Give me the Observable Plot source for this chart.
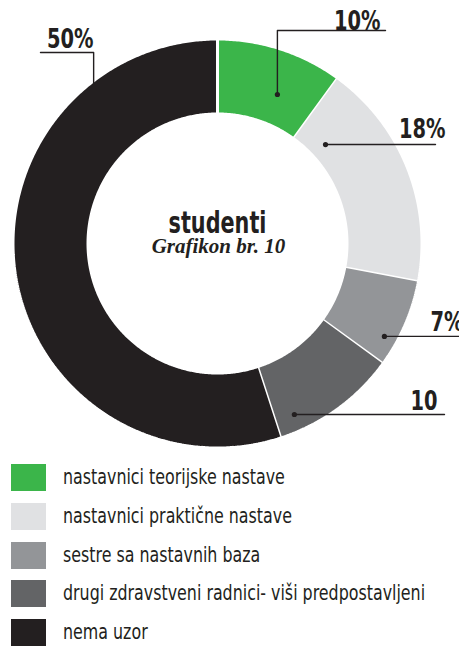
<!DOCTYPE html>
<html><head><meta charset="utf-8">
<script src="https://cdn.jsdelivr.net/npm/d3@7"></script>
<script src="https://cdn.jsdelivr.net/npm/@observablehq/plot@0.6"></script>
<style>
html,body{margin:0;padding:0;background:#fff}
body{width:459px;height:648px;overflow:hidden;position:relative;font-family:"Liberation Sans Narrow","DejaVu Sans Condensed",sans-serif;color:#231f20}
#chart{position:absolute;left:0;top:0}
#legend{position:absolute;left:11px;top:464px}
.row{display:flex;height:38.75px}
.sw{width:35px;height:27px;margin-right:17px;flex:none}
.lb{font-size:21px;line-height:27px;white-space:nowrap;transform:scaleX(0.84);transform-origin:0 50%}
</style>
</head><body>
<div id="chart"></div>
<div id="legend"></div>
<script>
// ---- data ----
const categories = ["nastavnici teorijske nastave","nastavnici praktične nastave","sestre sa nastavnih baza","drugi zdravstveni radnici- viši predpostavljeni","nema uzor"];
const values = [10, 18, 7, 10, 55];
const valueLabels = ["10%", "18%", "7%", "10", "50%"];
const colors = ["#3bb54a", "#e0e1e3", "#939598", "#636466", "#231f20"];
const centerTitle = "studenti";
const centerSubtitle = "Grafikon br. 10";

// ---- layout (not data) ----
const R_OUT = 204.5, R_IN = 129.5;
const callouts = [
  {angle: 21.9, r: 160.6, elbowY: -213, endX: 168, textX: 163, textY: -214},
  {angle: 47.5, r: 146.5, endX: 218, textX: 228, textY: -106},
  {angle: 119.1, r: 191, endX: 245, textX: 246, textY: 87},
  {angle: 155.8, r: 187.5, endX: 227, textX: 220, textY: 166},
  {angle: 322.4, r: 203, elbowY: -191, endX: -177, textX: -124, textY: -196, noDot: true}
];

const total = d3.sum(values);
const rad = a => a * Math.PI / 180;
const polar = (a, r) => ({x: r * Math.sin(rad(a)), y: -r * Math.cos(rad(a))});

let cum = 0;
const slices = values.map((v, i) => {
  const a0 = cum / total * 360; cum += v; const a1 = cum / total * 360;
  const n = Math.max(2, Math.ceil((a1 - a0) / 0.5));
  const pts = [];
  for (let k = 0; k <= n; k++) pts.push(polar(a0 + (a1 - a0) * k / n, R_OUT));
  for (let k = n; k >= 0; k--) pts.push(polar(a0 + (a1 - a0) * k / n, R_IN));
  return {cat: categories[i], color: colors[i], pts};
});

const leaderPts = [], dots = [], labels = [];
callouts.forEach((c, i) => {
  const p = polar(c.angle, c.r);
  const path = [p];
  if (c.elbowY !== undefined) path.push({x: p.x, y: c.elbowY});
  const ly = c.elbowY !== undefined ? c.elbowY : p.y;
  path.push({x: c.endX, y: ly});
  path.forEach(q => leaderPts.push({...q, id: i}));
  if (!c.noDot) dots.push(p);
  labels.push({x: c.textX, y: c.textY, text: valueLabels[i]});
});

const SANS = "Liberation Sans Narrow, DejaVu Sans Condensed, sans-serif";
const plot = Plot.plot({
  width: 459, height: 455, margin: 0,
  x: {domain: [-217, 242], range: [0, 459], axis: null},
  y: {domain: [-243, 212], range: [0, 455], axis: null},
  style: {background: "transparent", overflow: "visible"},
  marks: [
    ...slices.map(s => Plot.line(s.pts, {x: "x", y: "y", fill: s.color, stroke: "white", strokeWidth: 3, strokeLinejoin: "miter"})),
    Plot.line(leaderPts, {x: "x", y: "y", z: "id", stroke: "#231f20", strokeWidth: 1.4}),
    Plot.dot(dots, {x: "x", y: "y", r: 2.6, fill: "#231f20"}),
    Plot.text(labels, {x: "x", y: "y", text: "text", textAnchor: "end", lineAnchor: "bottom", fontSize: 27, fontWeight: "bold", fill: "#231f20", fontFamily: SANS, className: "vlabel"}),
    Plot.text([centerTitle], {x: 0, y: -11, text: d => d, lineAnchor: "bottom", fontSize: 30, fontWeight: "bold", fill: "#231f20", fontFamily: SANS, className: "ctitle"}),
    Plot.text([centerSubtitle], {x: 1, y: 9, text: d => d, lineAnchor: "bottom", fontSize: 21, fontWeight: "bold", fontStyle: "italic", fill: "#231f20", fontFamily: "Liberation Serif, DejaVu Serif, serif"})
  ]
});
document.getElementById("chart").appendChild(plot);

// condense the bold sans texts (no condensed bold face is installed)
function condense(sel, k) {
  d3.select(plot).selectAll(sel).each(function () {
    const w = this.getComputedTextLength();
    this.setAttribute("textLength", w * k);
    this.setAttribute("lengthAdjust", "spacingAndGlyphs");
  });
}
condense(".vlabel text", 0.8);
condense(".ctitle text", 0.77);

const legend = document.getElementById("legend");
categories.forEach((c, i) => {
  const row = document.createElement("div"); row.className = "row";
  const sw = document.createElement("div"); sw.className = "sw"; sw.style.background = colors[i];
  const lb = document.createElement("div"); lb.className = "lb"; lb.textContent = c;
  row.appendChild(sw); row.appendChild(lb); legend.appendChild(row);
});
</script>
</body></html>
